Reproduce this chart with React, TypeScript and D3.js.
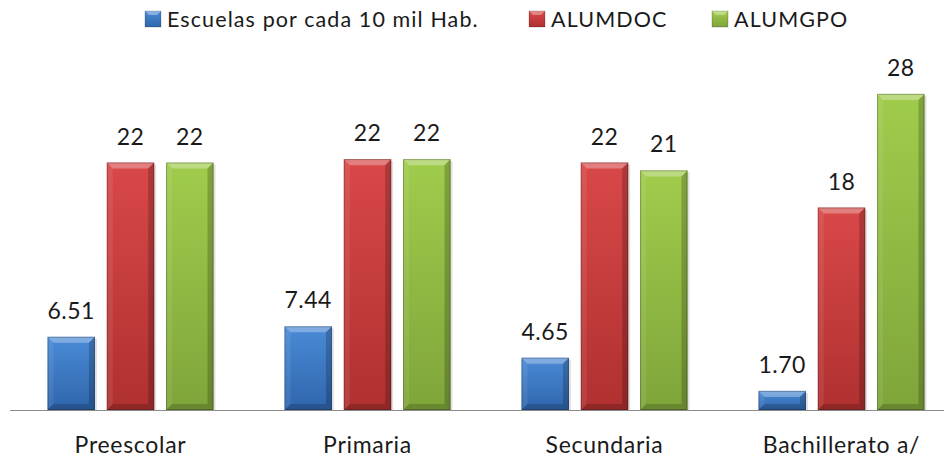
import * as d3 from "d3";
import { useEffect, useRef } from "react";

const categories = ["Preescolar", "Primaria", "Secundaria", "Bachillerato a/"];
const seriesNames = ["Escuelas por cada 10 mil Hab.", "ALUMDOC", "ALUMGPO"];
const escuelas = [6.51, 7.44, 4.65, 1.7];
const alumdoc = [22.0, 22.3, 22.0, 18.0];
const alumgpo = [22.0, 22.3, 21.3, 28.1];
const colors = [
  { top: "#4a8ad6", bottom: "#2f66ad", id: "gBlue" },
  { top: "#d94848", bottom: "#b03030", id: "gRed" },
  { top: "#a0cc4c", bottom: "#7fa53a", id: "gGreen" },
];

export default function App() {
  const svgRef = useRef<SVGSVGElement | null>(null);

  useEffect(() => {
    const width = 952;
    const height = 460;
    const baseY = 410;
    const font = "Lato, 'Open Sans', sans-serif";

    const svg = d3.select(svgRef.current);
    svg.selectAll("*").remove();
    svg.attr("width", width).attr("height", height);

    const defs = svg.append("defs");
    colors.forEach((c) => {
      const g = defs
        .append("linearGradient")
        .attr("id", c.id)
        .attr("x1", 0)
        .attr("y1", 0)
        .attr("x2", 0)
        .attr("y2", 1);
      g.append("stop").attr("offset", "0%").attr("stop-color", c.top);
      g.append("stop").attr("offset", "100%").attr("stop-color", c.bottom);
    });

    const series = [escuelas, alumdoc, alumgpo];

    const x0 = d3.scaleBand().domain(categories).range([12, 960]);
    const x1 = d3
      .scaleBand()
      .domain(seriesNames)
      .range([x0.bandwidth() / 2 - 83, x0.bandwidth() / 2 + 83])
      .paddingInner(0.2);
    const y = d3.scaleLinear().domain([0, 30]).range([baseY, baseY - 337.5]);

    // axis line
    svg
      .append("line")
      .attr("x1", 10)
      .attr("x2", width)
      .attr("y1", baseY + 0.5)
      .attr("y2", baseY + 0.5)
      .attr("stroke", "#8c8c8c")
      .attr("stroke-width", 1);

    const bw = x1.bandwidth();
    const bev = 6;

    categories.forEach((cat, ci) => {
      seriesNames.forEach((s, si) => {
        const v = series[si][ci];
        const bx = x0(cat)! + x1(s)!;
        const by = y(v);
        const bh = baseY - by;
        const g = svg.append("g");
        // shadow
        g.append("rect")
          .attr("x", bx + 2)
          .attr("y", by + 2)
          .attr("width", bw)
          .attr("height", bh - 2)
          .attr("fill", "rgba(0,0,0,0.12)");
        g.append("rect")
          .attr("x", bx)
          .attr("y", by)
          .attr("width", bw)
          .attr("height", bh)
          .attr("fill", `url(#${colors[si].id})`);
        const b = Math.min(bev, bh / 2);
        // top bevel
        g.append("polygon")
          .attr(
            "points",
            `${bx},${by} ${bx + bw},${by} ${bx + bw - b},${by + b} ${bx + b},${by + b}`
          )
          .attr("fill", "rgba(255,255,255,0.3)");
        // left bevel
        g.append("polygon")
          .attr(
            "points",
            `${bx},${by} ${bx + b},${by + b} ${bx + b},${baseY - b} ${bx},${baseY}`
          )
          .attr("fill", "rgba(255,255,255,0.08)");
        // right bevel
        g.append("polygon")
          .attr(
            "points",
            `${bx + bw},${by} ${bx + bw - b},${by + b} ${bx + bw - b},${baseY - b} ${bx + bw},${baseY}`
          )
          .attr("fill", "rgba(0,0,0,0.2)");
        // bottom bevel
        g.append("polygon")
          .attr(
            "points",
            `${bx},${baseY} ${bx + b},${baseY - b} ${bx + bw - b},${baseY - b} ${bx + bw},${baseY}`
          )
          .attr("fill", "rgba(0,0,0,0.18)");
        g.append("rect")
          .attr("x", bx + 0.5)
          .attr("y", by + 0.5)
          .attr("width", bw - 1)
          .attr("height", bh - 1)
          .attr("fill", "none")
          .attr("stroke", "rgba(0,0,0,0.25)")
          .attr("stroke-width", 1);

        // value label
        svg
          .append("text")
          .attr("x", bx + bw / 2)
          .attr("y", by - 18)
          .attr("text-anchor", "middle")
          .attr("font-family", font)
          .attr("font-size", 23)
          .attr("letter-spacing", 0.5)
          .attr("fill", "#1a1a1a")
          .text(si === 0 ? d3.format(".2f")(v) : d3.format(".0f")(v));
      });

      svg
        .append("text")
        .attr("x", x0(cat)! + x0.bandwidth() / 2)
        .attr("y", 453)
        .attr("text-anchor", "middle")
        .attr("font-family", font)
        .attr("font-size", 23)
        .attr("letter-spacing", 0.7)
        .attr("fill", "#1a1a1a")
        .text(cat);
    });

    // legend
    const legendX = [145, 529, 712];
    seriesNames.forEach((s, si) => {
      const lx = legendX[si];
      svg
        .append("rect")
        .attr("x", lx)
        .attr("y", 11)
        .attr("width", 16)
        .attr("height", 16)
        .attr("fill", `url(#${colors[si].id})`)
        .attr("stroke", "rgba(0,0,0,0.2)");
      svg
        .append("polygon")
        .attr("points", `${lx},11 ${lx + 16},11 ${lx + 12},15 ${lx + 4},15`)
        .attr("fill", "rgba(255,255,255,0.35)");
      svg
        .append("text")
        .attr("x", lx + 22)
        .attr("y", 27)
        .attr("font-family", font)
        .attr("font-size", 21.5)
        .attr("letter-spacing", 1.1)
        .attr("fill", "#1a1a1a")
        .text(s);
    });
  }, []);

  return (
    <div style={{ margin: "-8px" }}>
      <svg ref={svgRef}></svg>
    </div>
  );
}
